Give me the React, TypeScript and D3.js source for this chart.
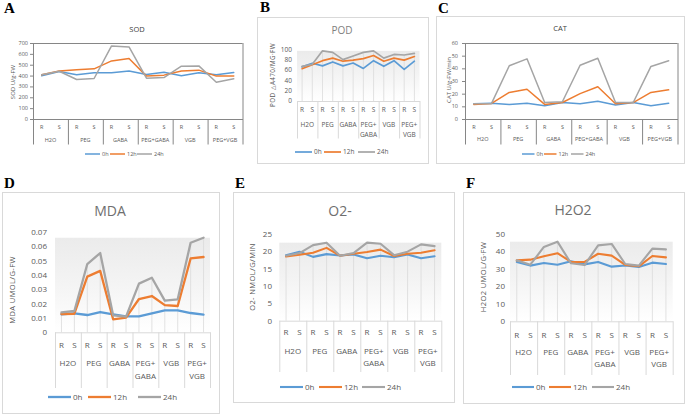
import React from "react";
import * as d3 from "d3";

const GROUPS = ["H2O", "PEG", "GABA", "PEG+GABA", "VGB", "PEG+VGB"];
const GROUPS_WRAPPED = [["H2O"], ["PEG"], ["GABA"], ["PEG+", "GABA"], ["VGB"], ["PEG+", "VGB"]];
const SUBS = ["R", "S"];
const SERIES = ["0h", "12h", "24h"];
const COLORS = ["#5b9bd5", "#ed7d31", "#a5a5a5"];

// SOD (U/g FW)
const SOD_0H = [398, 437, 407, 425, 425, 443, 410, 431, 398, 425, 407, 428];
const SOD_12H = [407, 443, 453, 462, 535, 557, 395, 404, 443, 450, 395, 395];
const SOD_24H = [407, 440, 364, 373, 673, 664, 376, 382, 486, 489, 339, 370];
const SOD_TICKS = [0, 100, 200, 300, 400, 500, 600, 700];

// POD
const POD_0H = [66, 73, 68, 75.5, 68, 73.5, 63, 78, 67, 78, 61, 77];
const POD_12H = [62.5, 70, 78, 83, 77, 79, 82, 88, 77, 83, 79, 86];
const POD_24H = [67, 71, 97, 94, 80, 87, 94, 97, 83, 90, 89, 92];
const POD_TICKS = [0, 20, 40, 60, 80, 100];

// CAT
const CAT_0H = [12, 12.5, 11.5, 12.5, 10.5, 13, 12, 14, 11, 13, 10.5, 12.5];
const CAT_12H = [11.5, 12.3, 21, 23.5, 11.5, 13, 20, 25.5, 12, 13, 21, 23];
const CAT_24H = [12, 12.3, 42, 47.5, 13, 13.6, 42.4, 48, 13, 13, 41.5, 46];
const CAT_TICKS = [0, 10, 20, 30, 40, 50, 60];

// MDA
const MDA_0H = [0.0126, 0.0133, 0.0121, 0.0142, 0.0126, 0.0112, 0.0112, 0.0133, 0.0154, 0.0154, 0.0135, 0.0124];
const MDA_12H = [0.0128, 0.013, 0.039, 0.043, 0.0091, 0.0103, 0.0233, 0.0254, 0.019, 0.0184, 0.0517, 0.0527];
const MDA_24H = [0.014, 0.0149, 0.0478, 0.0555, 0.0119, 0.011, 0.0341, 0.0382, 0.0222, 0.0231, 0.0627, 0.0662];
const MDA_TICKS = [0, 0.01, 0.02, 0.03, 0.04, 0.05, 0.06, 0.07];

// O2-
const O2_0H = [18.9, 19.9, 18.4, 19.2, 18.8, 19.1, 18.0, 18.75, 18.3, 19.1, 18.0, 18.6];
const O2_12H = [18.5, 19.0, 19.6, 21.0, 18.75, 19.3, 19.8, 20.5, 18.65, 19.3, 19.6, 20.3];
const O2_24H = [18.75, 19.5, 21.8, 22.5, 18.75, 19.5, 22.5, 22.2, 18.9, 19.9, 22.0, 21.5];
const O2_TICKS = [0, 5, 10, 15, 20, 25];

// H2O2
const H2O2_0H = [34, 31.9, 33.4, 32.4, 34.4, 32.6, 34, 31.3, 32, 31.1, 33.6, 32.8];
const H2O2_12H = [34.9, 35.3, 37.2, 39, 34, 34, 38.7, 37.6, 32.3, 31.5, 37.4, 36.6];
const H2O2_24H = [34.9, 32.4, 42.6, 45.6, 33.2, 32.2, 43.5, 44.3, 32.8, 31.9, 41.6, 41.2];
const H2O2_TICKS = [0, 10, 20, 30, 40, 50];

const FONT = "'Open Sans', 'Liberation Sans', sans-serif";

type Cfg = {
  id: string;
  letter: string; letterX: number; letterY: number;
  title: string; titleX: number; titleY: number; titleSize: number; titleColor: string;
  modern: boolean;
  frame: [number, number, number, number] | null;
  x0: number; x1: number; yTopPx: number; yBase: number;
  ticks: number[]; fmt: (v: number) => string;
  tickSize: number; tickLabelX: number;
  yTitle: string; yTitleX: number; yTitleY: number; yTitleSize: number;
  catSize: number; rsY: number; gY: number; gLineH: number; sepBottom: number;
  groupLabels: string[][];
  legendY: number; legendStarts: number[]; legendLen: number; legendSize: number;
  lineW: number;
  series: number[][];
};

const fmtInt = (v: number) => String(v);
const fmtMda = (v: number) => (v === 0 ? "0" : v.toFixed(2));

const PANELS: Cfg[] = [
  {
    id: "sod", letter: "A", letterX: 4, letterY: 13,
    title: "SOD", titleX: 137, titleY: 29, titleSize: 7.5, titleColor: "#404040",
    modern: false, frame: null,
    x0: 33, x1: 242.5, yTopPx: 43, yBase: 119,
    ticks: SOD_TICKS, fmt: fmtInt, tickSize: 5.5, tickLabelX: 28,
    yTitle: "SOD U/g-FW", yTitleX: 13, yTitleY: 82, yTitleSize: 6,
    catSize: 5.5, rsY: 127.3, gY: 139.7, gLineH: 10, sepBottom: 144.5,
    groupLabels: GROUPS.map((g) => [g]),
    legendY: 154, legendStarts: [85, 110, 137], legendLen: 15, legendSize: 5.5,
    lineW: 1.5,
    series: [SOD_0H, SOD_12H, SOD_24H],
  },
  {
    id: "pod", letter: "B", letterX: 260, letterY: 12,
    title: "POD", titleX: 342, titleY: 30.5, titleSize: 10, titleColor: "#7f7f7f",
    modern: true, frame: [257, 17, 171, 146],
    x0: 297, x1: 419.5, yTopPx: 49.3, yBase: 101,
    ticks: POD_TICKS, fmt: fmtInt, tickSize: 6.5, tickLabelX: 292,
    yTitle: "POD △A470/MG·FW", yTitleX: 272, yTitleY: 75, yTitleSize: 6.3,
    catSize: 6.5, rsY: 109.3, gY: 124.5, gLineH: 9.7, sepBottom: 138.5,
    groupLabels: GROUPS_WRAPPED,
    legendY: 152, legendStarts: [295, 324, 358], legendLen: 17, legendSize: 6.5,
    lineW: 1.7,
    series: [POD_0H, POD_12H, POD_24H],
  },
  {
    id: "cat", letter: "C", letterX: 438, letterY: 13,
    title: "CAT", titleX: 560, titleY: 28, titleSize: 7.5, titleColor: "#404040",
    modern: false, frame: [436, 16, 248, 147],
    x0: 465, x1: 677.5, yTopPx: 43, yBase: 119,
    ticks: CAT_TICKS, fmt: fmtInt, tickSize: 5.5, tickLabelX: 458,
    yTitle: "CAT U/g-FW/min", yTitleX: 449, yTitleY: 80, yTitleSize: 6,
    catSize: 5.5, rsY: 127, gY: 139.3, gLineH: 10, sepBottom: 144.5,
    groupLabels: GROUPS.map((g) => [g]),
    legendY: 154, legendStarts: [522, 544, 571], legendLen: 12.5, legendSize: 5.5,
    lineW: 1.5,
    series: [CAT_0H, CAT_12H, CAT_24H],
  },
  {
    id: "mda", letter: "D", letterX: 4, letterY: 188,
    title: "MDA", titleX: 110, titleY: 210.5, titleSize: 14, titleColor: "#6f6f6f",
    modern: true, frame: [2, 192, 217, 221],
    x0: 55, x1: 210, yTopPx: 232.3, yBase: 332.3,
    ticks: MDA_TICKS, fmt: fmtMda, tickSize: 8, tickLabelX: 47,
    yTitle: "MDA UMOL/G-FW", yTitleX: 12, yTitleY: 290, yTitleSize: 7.5,
    catSize: 8, rsY: 344.7, gY: 363, gLineH: 12.7, sepBottom: 388,
    groupLabels: GROUPS_WRAPPED,
    legendY: 397, legendStarts: [48, 88, 138], legendLen: 23, legendSize: 8,
    lineW: 2.3,
    series: [MDA_0H, MDA_12H, MDA_24H],
  },
  {
    id: "o2", letter: "E", letterX: 235, letterY: 188,
    title: "O2-", titleX: 340, titleY: 210.5, titleSize: 14, titleColor: "#6f6f6f",
    modern: true, frame: [233, 192, 221, 210],
    x0: 279.3, x1: 441.3, yTopPx: 234, yBase: 320.7,
    ticks: O2_TICKS, fmt: fmtInt, tickSize: 8, tickLabelX: 272,
    yTitle: "O2- NMOL/G/MIN", yTitleX: 252, yTitleY: 277, yTitleSize: 7.5,
    catSize: 8, rsY: 332.5, gY: 351.3, gLineH: 11.7, sepBottom: 372,
    groupLabels: GROUPS_WRAPPED,
    legendY: 387, legendStarts: [280, 319, 362], legendLen: 23, legendSize: 8,
    lineW: 2.1,
    series: [O2_0H, O2_12H, O2_24H],
  },
  {
    id: "h2o2", letter: "F", letterX: 466, letterY: 188,
    title: "H2O2", titleX: 573, titleY: 210, titleSize: 14, titleColor: "#6f6f6f",
    modern: true, frame: [463, 192, 221, 211],
    x0: 510, x1: 672.7, yTopPx: 234, yBase: 321.3,
    ticks: H2O2_TICKS, fmt: fmtInt, tickSize: 8, tickLabelX: 505,
    yTitle: "H2O2 UMOL/G·FW", yTitleX: 483, yTitleY: 277, yTitleSize: 7.5,
    catSize: 8, rsY: 334.7, gY: 352.3, gLineH: 11.7, sepBottom: 375,
    groupLabels: GROUPS_WRAPPED,
    legendY: 387, legendStarts: [512, 549, 592], legendLen: 22, legendSize: 8,
    lineW: 2.1,
    series: [H2O2_0H, H2O2_12H, H2O2_24H],
  },
];

const bl = (center: number, fs: number) => center + 0.36 * fs;

function Panel({ c }: { c: Cfg }) {
  const cats = GROUPS.flatMap((g) => SUBS.map((s) => `${g}|${s}`));
  const x = d3.scalePoint<string>().domain(cats).range([c.x0, c.x1]).padding(0.5);
  const gx = d3.scaleBand<string>().domain(GROUPS).range([c.x0, c.x1]).padding(0);
  const yMax = c.ticks[c.ticks.length - 1];
  const y = d3.scaleLinear().domain([0, yMax]).range([c.yBase, c.yTopPx]);
  const line = d3
    .line<number>()
    .x((_, i) => x(cats[i]) as number)
    .y((v) => y(v));
  const maxAt = cats.map((_, i) => d3.max(c.series, (s) => s[i]) as number);
  const dataMax = d3.max(maxAt) as number;
  const axisColor = c.modern ? "#d9d9d9" : "#868686";
  const labelColor = "#595959";
  const gradId = `grad-${c.id}`;
  const boundaries = [...GROUPS.map((g) => gx(g) as number), c.x1];

  return (
    <g fontFamily={FONT}>
      {c.frame && (
        <rect x={c.frame[0] + 0.5} y={c.frame[1] + 0.5} width={c.frame[2]} height={c.frame[3]}
          fill="#fff" stroke="#d9d9d9" strokeWidth={1} />
      )}
      <text x={c.letterX} y={c.letterY} fontFamily="'Liberation Serif', 'DejaVu Serif', serif"
        fontWeight="bold" fontSize={15} fill="#000">{c.letter}</text>
      <text x={c.titleX} y={bl(c.titleY, c.titleSize)} textAnchor="middle" fontSize={c.titleSize}
        fill={c.titleColor}>{c.title}</text>

      {c.modern && (
        <>
          <defs>
            <linearGradient id={gradId} x1="0" y1="0" x2="0" y2="1">
              <stop offset="0" stopColor="#ebebeb" />
              <stop offset="0.5" stopColor="#f4f4f4" />
              <stop offset="1" stopColor="#ffffff" />
            </linearGradient>
          </defs>
          <rect x={c.x0} y={y(dataMax)} width={c.x1 - c.x0} height={c.yBase - y(dataMax)}
            fill={`url(#${gradId})`} />
          {cats.map((k, i) => (
            <line key={k} x1={x(k)} x2={x(k)} y1={y(maxAt[i])} y2={c.yBase}
              stroke="#dadada" strokeWidth={0.8} />
          ))}
        </>
      )}

      {!c.modern && (
        <>
          <line x1={c.x0} x2={c.x1} y1={c.yTopPx + 0.5} y2={c.yTopPx + 0.5} stroke={axisColor} strokeWidth={1} />
          <line x1={c.x1 + 0.5} x2={c.x1 + 0.5} y1={c.yTopPx} y2={c.yBase} stroke={axisColor} strokeWidth={1} />
          <line x1={c.x0 + 0.5} x2={c.x0 + 0.5} y1={c.yTopPx} y2={c.yBase} stroke={axisColor} strokeWidth={1} />
          {c.ticks.map((t) => (
            <line key={t} x1={c.x0 - 3} x2={c.x0} y1={y(t) + 0.5} y2={y(t) + 0.5} stroke={axisColor} strokeWidth={1} />
          ))}
        </>
      )}

      {c.ticks.map((t) => (
        <text key={t} x={c.tickLabelX} y={bl(y(t), c.tickSize)} textAnchor="end" fontSize={c.tickSize}
          fill={labelColor}>{c.fmt(t)}</text>
      ))}

      <text transform={`translate(${c.yTitleX},${c.yTitleY}) rotate(-90)`} textAnchor="middle"
        dominantBaseline="central" fontSize={c.yTitleSize} fill={labelColor}
        letterSpacing={c.modern ? 0.4 : 0}>{c.yTitle}</text>

      {/* category axis */}
      <line x1={c.x0} x2={c.x1 + 0.5} y1={c.yBase + 0.5} y2={c.yBase + 0.5} stroke={axisColor} strokeWidth={1} />
      {boundaries.map((b, i) => (
        <line key={i} x1={b + 0.5} x2={b + 0.5} y1={c.yBase} y2={c.sepBottom} stroke={axisColor} strokeWidth={1} />
      ))}
      {cats.map((k) => (
        <text key={k} x={x(k)} y={bl(c.rsY, c.catSize)} textAnchor="middle" fontSize={c.catSize}
          fill={labelColor}>{k.split("|")[1]}</text>
      ))}
      {GROUPS.map((g, gi) => (
        <text key={g} x={(gx(g) as number) + gx.bandwidth() / 2} textAnchor="middle" fontSize={c.catSize}
          fill={labelColor}>
          {c.groupLabels[gi].map((part, pi) => (
            <tspan key={pi} x={(gx(g) as number) + gx.bandwidth() / 2}
              y={bl(c.gY + pi * c.gLineH, c.catSize)}>{part}</tspan>
          ))}
        </text>
      ))}

      {/* series lines */}
      {c.series.map((s, si) => (
        <path key={si} d={line(s) as string} fill="none" stroke={COLORS[si]} strokeWidth={c.lineW}
          strokeLinejoin="round" strokeLinecap="round" />
      ))}

      {/* legend */}
      {SERIES.map((name, si) => (
        <g key={name}>
          <line x1={c.legendStarts[si]} x2={c.legendStarts[si] + c.legendLen} y1={c.legendY} y2={c.legendY}
            stroke={COLORS[si]} strokeWidth={c.lineW} />
          <text x={c.legendStarts[si] + c.legendLen + 2} y={bl(c.legendY, c.legendSize)}
            fontSize={c.legendSize} fill={labelColor}>{name}</text>
        </g>
      ))}
    </g>
  );
}

export default function App() {
  return (
    <svg width={685} height={415} viewBox="0 0 685 415"
      style={{ position: "absolute", left: 0, top: 0, background: "#fff" }}>
      <rect x={0} y={0} width={685} height={415} fill="#fff" />
      {PANELS.map((c) => (
        <Panel key={c.id} c={c} />
      ))}
    </svg>
  );
}
